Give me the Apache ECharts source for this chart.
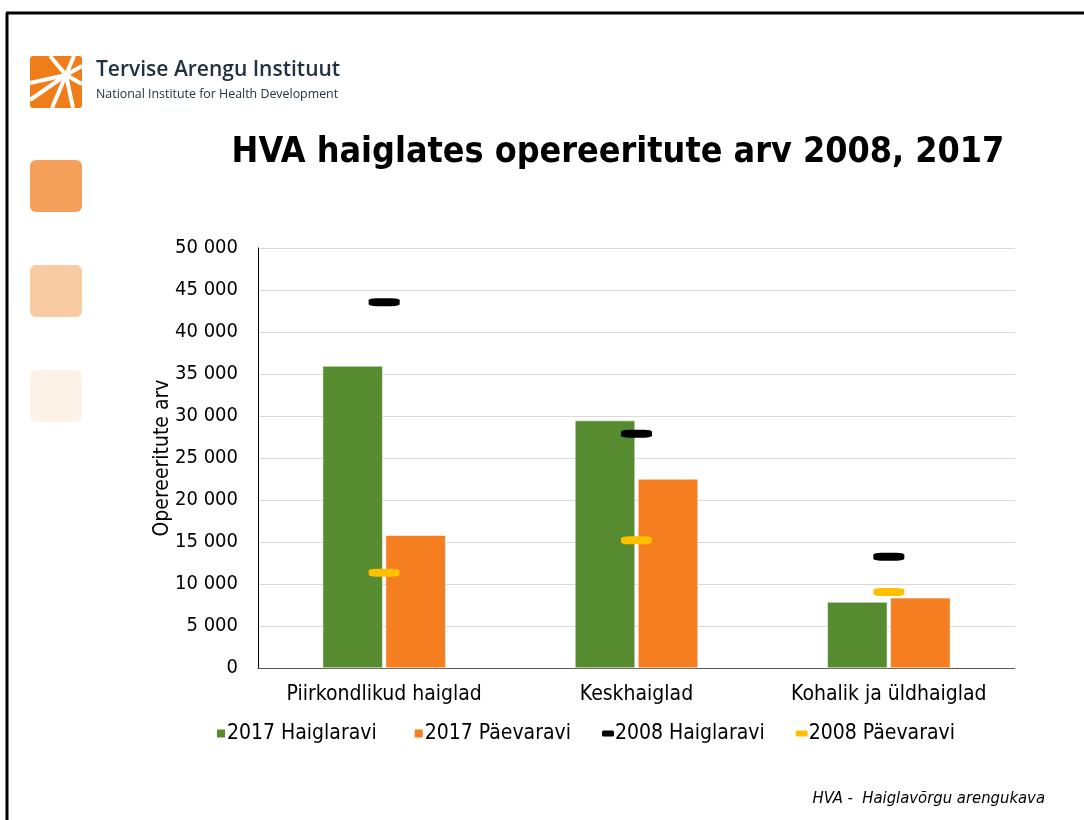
<!DOCTYPE html>
<html>
<head>
<meta charset="utf-8">
<script src="https://cdn.jsdelivr.net/npm/echarts@6/dist/echarts.min.js"></script>
<style>
  html, body { margin: 0; padding: 0; background: #fff; }
  #chart { width: 1084px; height: 820px; }
</style>
</head>
<body>
<div id="chart"></div>
<script>
// data
const categories = ['Piirkondlikud haiglad', 'Keskhaiglad', 'Kohalik ja üldhaiglad'];
const haiglaravi2017 = [35950, 29450, 7850];
const paevaravi2017 = [15800, 22500, 8350];
const haiglaravi2008 = [43550, 27900, 13250];
const paevaravi2008 = [11350, 15200, 9050];
const yTicks = [0, 5000, 10000, 15000, 20000, 25000, 30000, 35000, 40000, 45000, 50000];

const FONT = '"DejaVu Sans Condensed", "DejaVu Sans", sans-serif';
const green = '#568B2F', orange = '#F47E20', black = '#000000', yellow = '#FFC000';

function fmt(v) {
  return String(v).replace(/\B(?=(\d{3})+(?!\d))/g, ' ');
}

const chart = echarts.init(document.getElementById('chart'));

// logo rays (white) over orange square
const rays = [[30, 83], [50, 56], [74, 56], [82, 66], [82, 84], [73, 108], [52, 108], [30, 100]];
const rayEls = rays.map(function (p) {
  return {
    type: 'line',
    shape: { x1: 66, y1: 75, x2: p[0], y2: p[1] },
    style: { stroke: '#fff', lineWidth: 4 }
  };
});

chart.setOption({
  animation: false,
  textStyle: { fontFamily: FONT },
  grid: { left: 258, right: 69, top: 248, bottom: 152 },
  legend: [
    {
      left: 210, top: 718,
      itemWidth: 10, itemHeight: 10, itemGap: 36,
      textStyle: { fontFamily: FONT, fontSize: 21, color: '#000', padding: [0, 0, 0, -4] },
      data: [{ name: '2017 Haiglaravi', icon: 'rect' }, { name: '2017 Päevaravi', icon: 'rect' }]
    },
    {
      left: 597, top: 718,
      itemWidth: 12, itemHeight: 6, itemGap: 31,
      textStyle: { fontFamily: FONT, fontSize: 21, color: '#000', padding: [0, 0, 0, -4] },
      data: [{ name: '2008 Haiglaravi', icon: 'roundRect' }, { name: '2008 Päevaravi', icon: 'roundRect' }]
    }
  ],
  xAxis: {
    type: 'category',
    data: categories,
    axisTick: { show: false },
    axisLine: { lineStyle: { color: '#595959', width: 1 } },
    axisLabel: { color: '#000', fontSize: 21, margin: 16, interval: 0, fontFamily: FONT }
  },
  yAxis: {
    type: 'value',
    min: yTicks[0],
    max: yTicks[yTicks.length - 1],
    interval: yTicks[1] - yTicks[0],
    name: 'Opereeritute arv',
    nameLocation: 'middle',
    nameGap: 85,
    nameMoveOverlap: false,
    nameTextStyle: { fontSize: 21, color: '#000', fontFamily: FONT },
    axisLine: { show: true, lineStyle: { color: '#000', width: 1 } },
    axisTick: { show: false },
    axisLabel: { color: '#000', fontSize: 20, margin: 20, fontFamily: FONT, formatter: fmt },
    splitLine: { lineStyle: { color: '#d9d9d9', width: 1 } }
  },
  series: [
    {
      name: '2017 Haiglaravi', type: 'bar', data: haiglaravi2017,
      barWidth: 60, barGap: '5%',
      itemStyle: { color: green, borderColor: '#fff', borderWidth: 0.5 }
    },
    {
      name: '2017 Päevaravi', type: 'bar', data: paevaravi2017,
      barWidth: 60, barGap: '5%',
      itemStyle: { color: orange, borderColor: '#fff', borderWidth: 0.5 }
    },
    {
      name: '2008 Haiglaravi', type: 'scatter', data: haiglaravi2008,
      symbol: 'roundRect', symbolSize: [31, 8], z: 5,
      itemStyle: { color: black, opacity: 1 }
    },
    {
      name: '2008 Päevaravi', type: 'scatter', data: paevaravi2008,
      symbol: 'roundRect', symbolSize: [31, 8], z: 5,
      itemStyle: { color: yellow, opacity: 1 }
    }
  ],
  graphic: [
    // slide frame
    { type: 'line', shape: { x1: 7, y1: 13, x2: 7, y2: 820 }, style: { stroke: '#000', lineWidth: 3 } },
    { type: 'line', shape: { x1: 6, y1: 13, x2: 1084, y2: 13 }, style: { stroke: '#000', lineWidth: 3 } },
    // logo
    { type: 'rect', shape: { x: 30, y: 56, width: 52, height: 52, r: 3 }, style: { fill: '#EF7D1A' } },
    { type: 'group', children: rayEls },
    {
      type: 'text', x: 96, y: 60,
      style: { text: 'Tervise Arengu Instituut', fill: '#233241', font: '600 21px "Open Sans", sans-serif' }
    },
    {
      type: 'text', x: 96, y: 88,
      style: { text: 'National Institute for Health Development', fill: '#233241', font: '12.4px "Open Sans", sans-serif' }
    },
    // decorative squares
    { type: 'rect', shape: { x: 30, y: 160, width: 52, height: 52, r: 6 }, style: { fill: '#F4A05A' } },
    { type: 'rect', shape: { x: 30, y: 265, width: 52, height: 52, r: 6 }, style: { fill: '#F9CBA2' } },
    { type: 'rect', shape: { x: 30, y: 370, width: 52, height: 52, r: 6 }, style: { fill: '#FDF2E7' } },
    // title
    {
      type: 'text', x: 618, y: 135,
      style: {
        text: 'HVA haiglates opereeritute arv 2008, 2017', fill: '#000',
        font: 'bold 35.6px "DejaVu Sans Condensed", "DejaVu Sans", sans-serif', align: 'center'
      }
    },
    // footer
    {
      type: 'text', x: 1045, y: 790,
      style: {
        text: 'HVA -  Haiglavõrgu arengukava', fill: '#000',
        font: 'italic 16.5px "DejaVu Sans Condensed", "DejaVu Sans", sans-serif', align: 'right'
      }
    }
  ]
});
</script>
</body>
</html>
